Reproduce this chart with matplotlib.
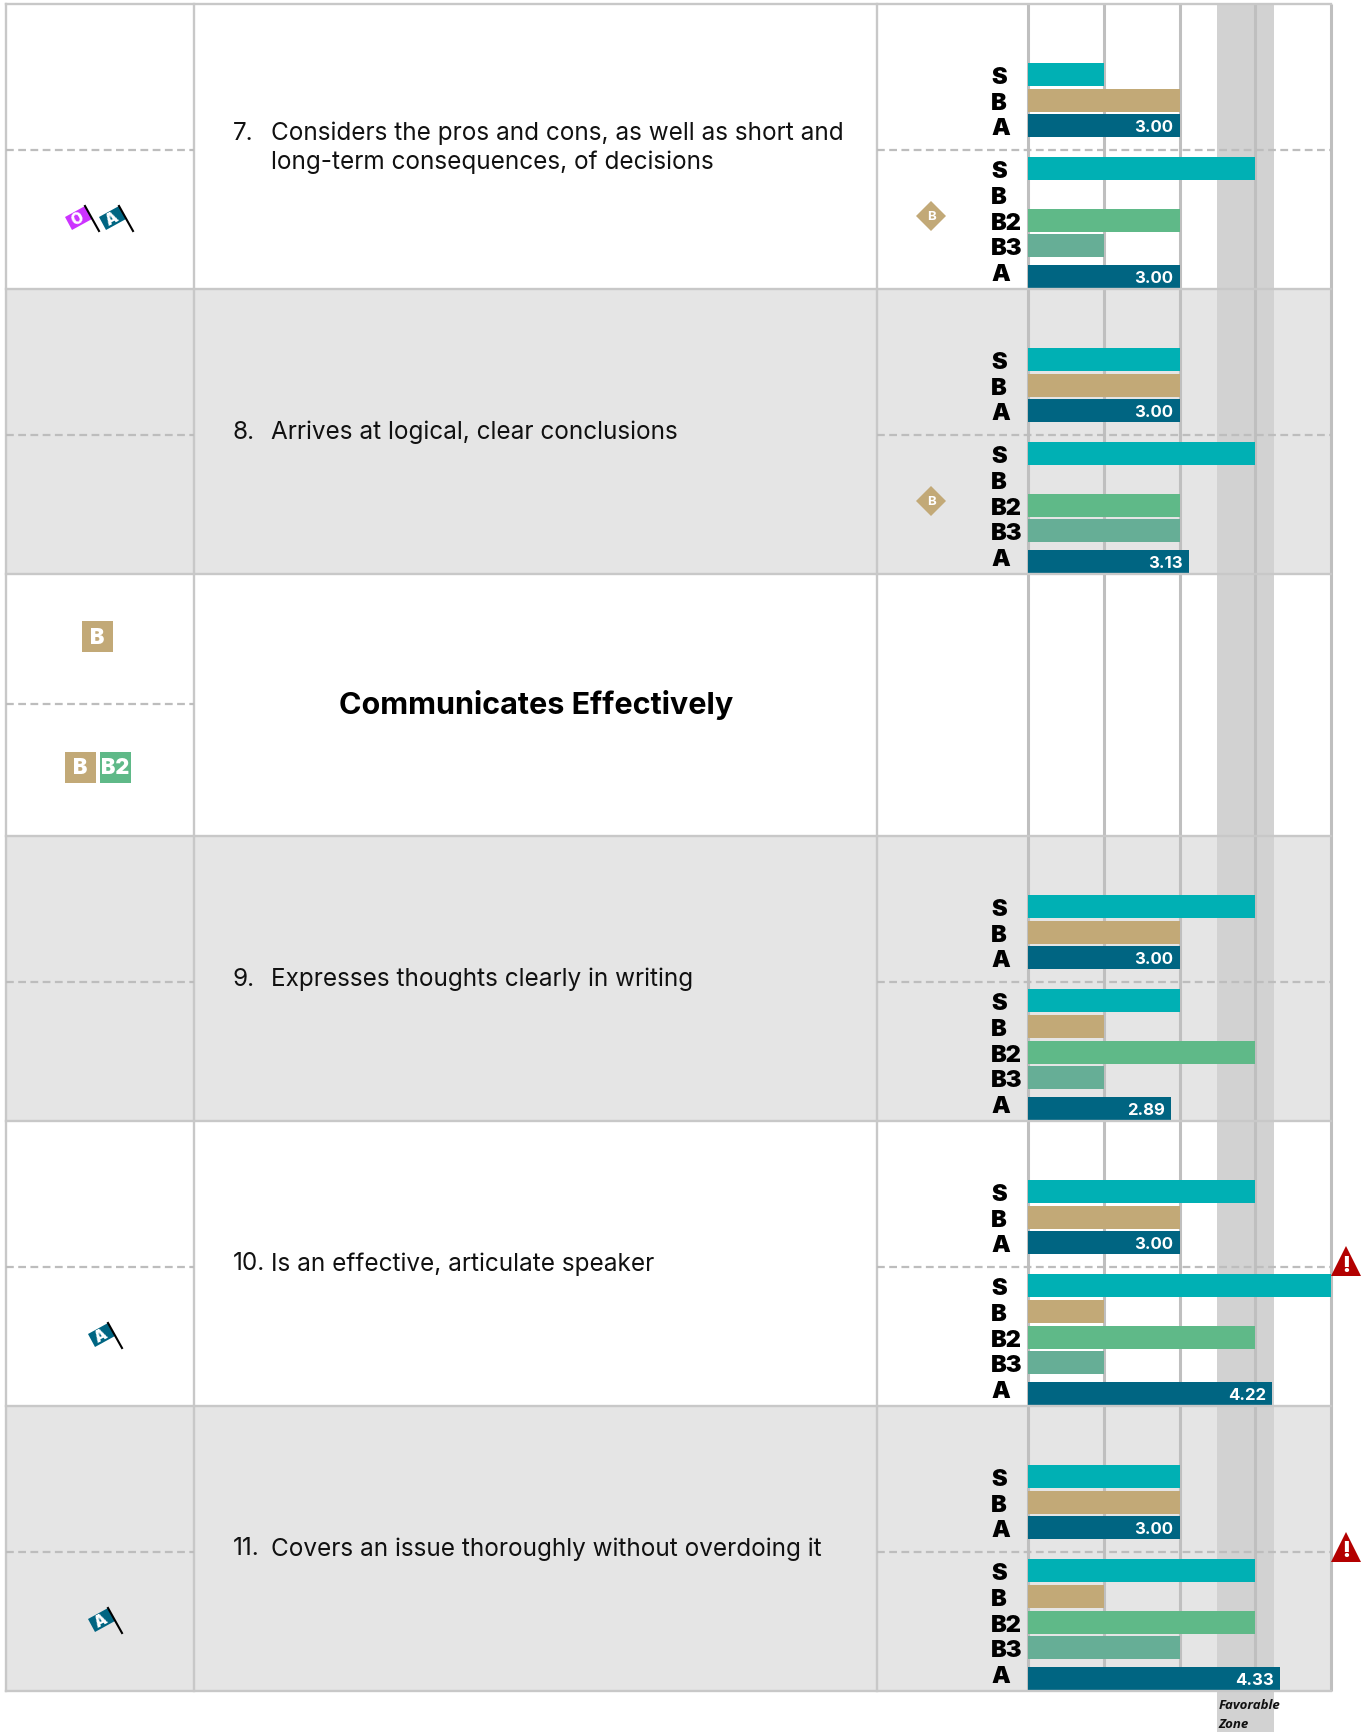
import matplotlib
matplotlib.use("Agg")
import matplotlib.pyplot as plt
from matplotlib.patches import Polygon, Rectangle

plt.rcParams['font.family'] = ['Inter', 'DejaVu Sans']

# values, one list per row: top block is S B A, lower block is S B B2 B3 A
numbers = ["7.", "8.", "9.", "10.", "11."]
items = [["Considers the pros and cons, as well as short and", "long-term consequences, of decisions"],
         ["Arrives at logical, clear conclusions"],
         ["Expresses thoughts clearly in writing"],
         ["Is an effective, articulate speaker"],
         ["Covers an issue thoroughly without overdoing it"]]
top_s = [2, 3, 4, 4, 3]
top_b = [3, 3, 3, 3, 3]
top_a = [3.00, 3.00, 3.00, 3.00, 3.00]
low_s = [4, 4, 3, 5, 4]
low_b = [None, None, 2, 2, 2]
low_b2 = [3, 3, 4, 4, 4]
low_b3 = [2, 3, 2, 2, 3]
low_a = [3.00, 3.13, 2.89, 4.22, 4.33]
heading = "Communicates Effectively"
top_labels = ["S", "B", "A"]
low_labels = ["S", "B", "B2", "B3", "A"]
ticks = [1, 2, 3, 4, 5]
zone = [3.5, 4.25]

c_s = "#00b0b4"
c_b = "#c2a977"
c_b2 = "#5fb988"
c_b3 = "#66ae96"
c_a = "#006582"
c_o = "#cc33ff"
line = "#c8c8c8"
gray = "#e5e5e5"

W, H = 1368, 1733
fig = plt.figure(figsize=(W / 100, H / 100), dpi=100)

# three layers: row fills, score axes, then lines and text
bg = fig.add_axes([0, 0, 1, 1], zorder=0)
bg.set_xlim(0, W)
bg.set_ylim(H, 0)
bg.axis("off")

x0, x1 = 1028, 1331
bx = fig.add_axes([x0 / W, 0, (x1 - x0) / W, 1], zorder=1)
bx.set_xlim(ticks[0], ticks[-1])
bx.set_ylim(H, 0)
bx.axis("off")

ax = fig.add_axes([0, 0, 1, 1], zorder=2)
ax.set_xlim(0, W)
ax.set_ylim(H, 0)
ax.axis("off")

row_tops = [5, 290, 575, 837, 1122, 1407, 1692]
item_rows = [0, 1, 3, 4, 5]
left, col1, col2 = 6, 194, 877

# row backgrounds
for i in [1, 3, 5]:
    bg.add_patch(Rectangle((left, row_tops[i]), x1 - left, row_tops[i + 1] - row_tops[i], color=gray, lw=0))

# zone + grid
bx.axvspan(zone[0], zone[1], ymin=0, ymax=(H - row_tops[0]) / H, color="#d2d2d2", lw=0, zorder=1)
bx.vlines(ticks, row_tops[0], row_tops[-1], color="#bfbfbf", lw=2.2, zorder=2, clip_on=False)

# table lines
for y in row_tops:
    ax.plot([left, x1], [y, y], color=line, lw=1.7, zorder=3)
for x in [left, col1, col2]:
    ax.plot([x, x], [row_tops[0], row_tops[-1]], color=line, lw=1.7, zorder=3)

dash = (0, (3.5, 2))
for r in item_rows:
    y = row_tops[r] + 146
    ax.plot([left, col1], [y, y], color="#bdbdbd", lw=1.6, ls=dash, zorder=3)
    ax.plot([col2, x1], [y, y], color="#bdbdbd", lw=1.6, ls=dash, zorder=3)
ax.plot([left, col1], [705, 705], color="#bdbdbd", lw=1.6, ls=dash, zorder=3)


def score_bars(y_list, values, colors, value_i):
    for j, v in enumerate(values):
        if v is None:
            continue
        bx.barh(y_list[j], v - ticks[0], left=ticks[0], height=23, color=colors[j], lw=0, zorder=4)
        if j == value_i:
            bx.annotate("%.2f" % v, (v, y_list[j]), xytext=(-4.5, -0.5), textcoords="offset points",
                        ha="right", va="center", color="white", fontsize=12, fontweight="bold", zorder=5)


for n, r in enumerate(item_rows):
    t = row_tops[r]
    score_bars([t + 70.5, t + 96.5, t + 121.5], [top_s[n], top_b[n], top_a[n]], [c_s, c_b, c_a], 2)
    score_bars([t + 164.5, t + 190, t + 216.5, t + 241.5, t + 272.5],
               [low_s[n], low_b[n], low_b2[n], low_b3[n], low_a[n]], [c_s, c_b, c_b2, c_b3, c_a], 4)
    for lab, dy in zip(top_labels, [73, 99, 124]):
        ax.text(991, t + dy, lab, fontsize=17, fontweight="black", va="center", ha="left", color="black", zorder=6)
    for lab, dy in zip(low_labels, [167, 193, 219, 244, 270]):
        ax.text(991, t + dy, lab, fontsize=17, fontweight="black", va="center", ha="left", color="black", zorder=6)
    # item text
    lines = items[n]
    ys = [t + 128 + 29 * k for k in range(len(lines))] if len(lines) > 1 else [t + 142]
    ax.text(233, ys[0], numbers[n], fontsize=17.5, va="center", ha="left", color="#111111", zorder=6)
    for s, y in zip(lines, ys):
        ax.text(271, y, s, fontsize=17.5, va="center", ha="left", color="#111111", zorder=6)

ax.text(536, 705, heading, fontsize=22, fontweight="bold", ha="center", va="center", color="black", zorder=6)


def flag(px, py, color, letter):
    ax.add_patch(Polygon([(px, py), (px - 20, py + 11), (px - 13, py + 24), (px + 7, py + 13)], color=color, lw=0, zorder=5))
    ax.plot([px, px + 14], [py, py + 25], color="black", lw=1.5, zorder=6)
    ax.text(px - 7, py + 12, letter, rotation=28, rotation_mode="anchor", color="white", fontsize=11,
            fontweight="black", ha="center", va="center", zorder=6)


flag(85, row_tops[0] + 202, c_o, "O")
flag(119, row_tops[0] + 202, c_a, "A")
flag(108, row_tops[4] + 202, c_a, "A")
flag(108, row_tops[5] + 202, c_a, "A")


def badge(x, y, color, letter):
    ax.add_patch(Rectangle((x, y), 31, 31, color=color, lw=0, zorder=5))
    ax.text(x + 15.5, y + 15.5, letter, color="white", fontsize=15.5, fontweight="black", ha="center", va="center", zorder=6)


badge(82, 622, c_b, "B")
badge(65, 753, c_b, "B")
badge(100, 753, c_b2, "B2")


def diamond(cx, cy):
    ax.add_patch(Polygon([(cx - 15, cy), (cx, cy - 15), (cx + 15, cy), (cx, cy + 15)], color=c_b, lw=0, zorder=5))
    ax.text(cx, cy, "B", color="white", fontsize=9.5, fontweight="bold", ha="center", va="center", zorder=6)


diamond(931, row_tops[0] + 212)
diamond(931, row_tops[1] + 212)


def warn(cx, ty):
    ax.add_patch(Polygon([(cx, ty), (cx + 15, ty + 30), (cx - 15, ty + 30)], color="#b30000", lw=0, zorder=7))
    ax.text(cx, ty + 18.5, "!", color="white", fontsize=15, fontweight="black", ha="center", va="center", zorder=8)


warn(1346, row_tops[4] + 125)
warn(1346, row_tops[5] + 126)

# zone caption
for s, y in zip(["Favorable", "Zone"], [1706, 1725]):
    bx.text(zone[0] + 0.02, y, s, fontsize=9.5, fontweight="bold", style="italic", family=["Open Sans", "DejaVu Sans"],
            va="center", ha="left", color="#111111", zorder=6)

fig.savefig("out.png", dpi=100)
